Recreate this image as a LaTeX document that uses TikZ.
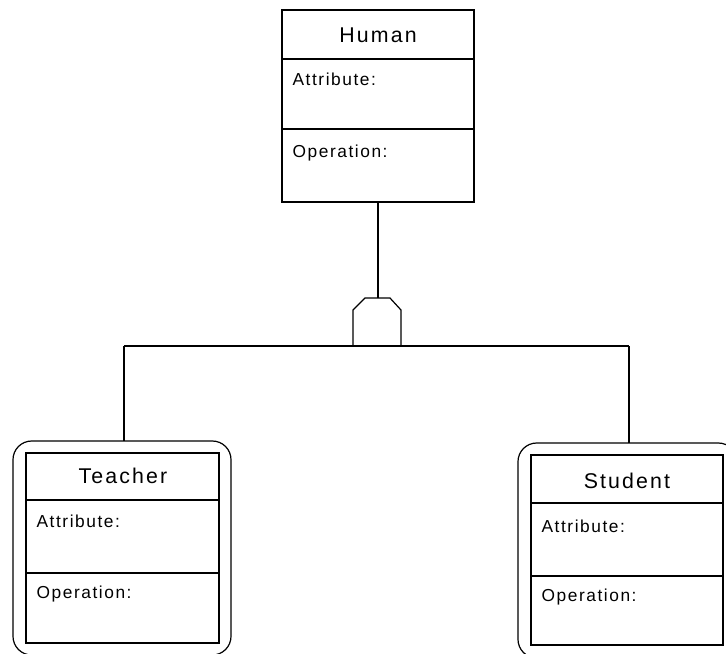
\documentclass[tikz,border=0pt]{standalone}
\usepackage{fontspec}
\setmainfont{Liberation Sans}
\newfontfamily\titlefont[LetterSpace=10]{Liberation Sans}
\newfontfamily\slotfont[LetterSpace=9]{Liberation Sans}

\tikzset{every picture/.style={line width=0.9pt}}
\tikzset{
  classbox/.style={draw, anchor=north west, inner sep=0pt, outer sep=0pt, minimum width=144pt, minimum height=143pt},
  roundbox/.style={draw, rounded corners=14pt, anchor=north west, inner sep=0pt, outer sep=0pt},
  classname/.style={anchor=base, inner sep=0.75pt, font=\titlefont\fontsize{16}{19}\selectfont},
  slotname/.style={anchor=base west, inner sep=0.75pt, font=\slotfont\fontsize{13}{15}\selectfont}
}

\begin{document}
\begin{tikzpicture}[x=0.75pt,y=0.75pt,yscale=-1,xscale=1]
\useasboundingbox (0,0) rectangle (726,654);
\clip (0,0) rectangle (726,654);

%Shape: Rectangle [id:human] 
\node [classbox, minimum height=144pt] (human) at (282,10) {};
\draw    (282,59) -- (474,59) ;
\draw    (282,129) -- (474,129) ;

%Shape: Rounded Rect [id:teacherout] 
\node [roundbox, minimum width=163.5pt, minimum height=160.5pt] (teacherout) at (13,441) {};
%Shape: Rectangle [id:teacher] 
\node [classbox, minimum width=144.75pt, minimum height=142.5pt] (teacher) at (26,453) {};
\draw    (26,500) -- (219,500) ;
\draw    (26,573) -- (219,573) ;

%Shape: Rounded Rect [id:studentout] 
\node [roundbox, minimum width=164.25pt, minimum height=161.25pt] (studentout) at (518,443) {};
%Shape: Rectangle [id:student] 
\node [classbox, minimum width=144pt, minimum height=142.5pt] (student) at (531,455) {};
\draw    (531,503) -- (723,503) ;
\draw    (531,576) -- (723,576) ;

%Generalization 
\coordinate (gen) at (378,298) ;
\coordinate (barL) at (124,346) ;
\coordinate (barR) at (629,346) ;
\draw    (353,346) -- (353,310) -- (365,298) -- (390,298) -- (401,310) -- (401,346) ;
%Straight Lines 
\draw    (human.south) -- (gen) ;
\draw    (barL) -- (barR) ;
\draw    (barL) -- (barL |- teacherout.north) ;
\draw    (barR) -- (barR |- studentout.north) ;

% Text Node
\draw (378,42) node [classname]   (humantitle) {Human};
% Text Node
\draw (291,85) node [slotname]   (humanattr) {Attribute:};
% Text Node
\draw (291,157) node [slotname]   (humanop) {Operation:};
% Text Node
\draw (123,483) node [classname]   (teachertitle) {Teacher};
% Text Node
\draw (35,527) node [slotname]   (teacherattr) {Attribute:};
% Text Node
\draw (35,598) node [slotname]   (teacherop) {Operation:};
% Text Node
\draw (627,488) node [classname]   (studenttitle) {Student};
% Text Node
\draw (540,532) node [slotname]   (studentattr) {Attribute:};
% Text Node
\draw (540,601) node [slotname]   (studentop) {Operation:};

\end{tikzpicture}
\end{document}
